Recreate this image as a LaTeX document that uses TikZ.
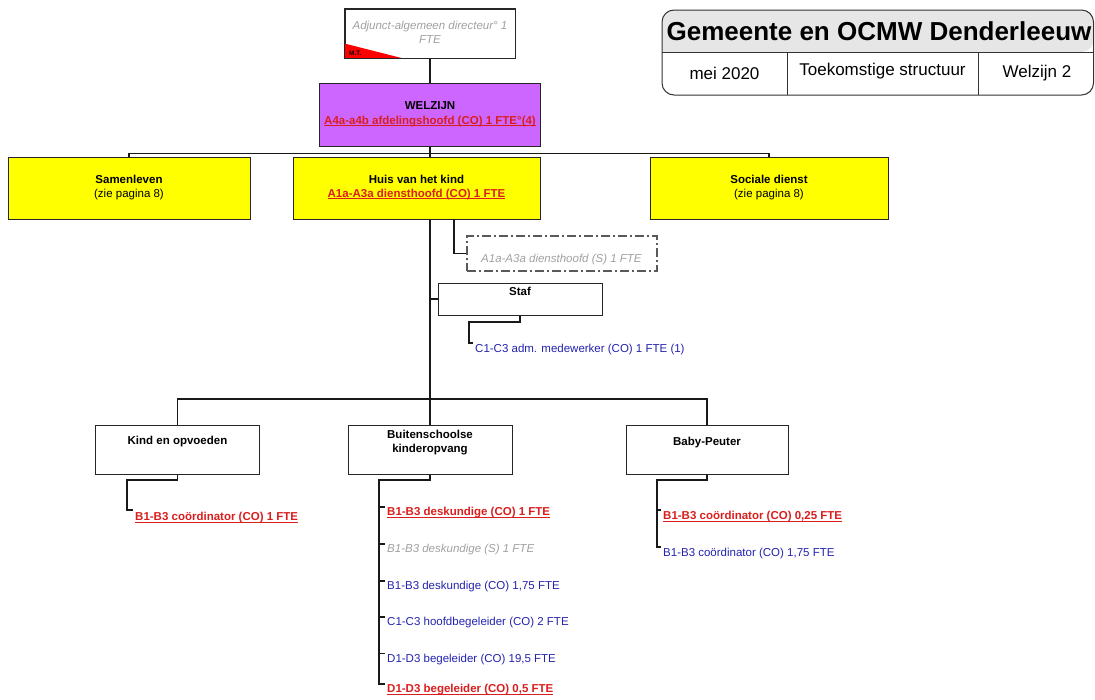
\documentclass[tikz,border=0pt]{standalone}
\usepackage{fontspec}
\setmainfont{Liberation Sans}
\usetikzlibrary{calc}
\definecolor{tred}{RGB}{218,30,30}
\definecolor{tblue}{RGB}{35,35,175}
\definecolor{tgray}{RGB}{160,160,160}
\definecolor{violetfill}{RGB}{204,102,255}
\definecolor{titlegray}{RGB}{230,230,230}
\definecolor{yellowfill}{RGB}{255,255,0}
\newcommand{\myul}[1]{{\setbox0\hbox{#1}\rlap{\rule[-1.7pt]{\wd0}{0.9pt}}\box0}}
\begin{document}
\begin{tikzpicture}[x=1pt,y=-1pt,
  box/.style={draw=black!85, line width=1pt, rectangle, inner sep=0pt},
  conn/.style={draw=black!90, line width=1.1pt},
  fnt/.style={font=\fontsize{11.5}{13.5}\selectfont, align=center, inner sep=0pt},
  leaf/.style={fnt, anchor=west, align=left},
  redl/.style={leaf, text=tred, font=\fontsize{11.5}{13.5}\selectfont\bfseries},
  bluel/.style={leaf, text=tblue},
  grayl/.style={leaf, text=tgray, font=\fontsize{11.5}{13.5}\selectfont\itshape},
  hdr/.style={font=\fontsize{17}{20}\selectfont, inner sep=0pt}]
\useasboundingbox (0,0) rectangle (1095,699);

% ---- title block
\fill[titlegray] (662,52) [rounded corners=12pt] |- (878,10) -| (1093.5,52) [sharp corners] -- cycle;
\draw[line width=1pt, black!80, rounded corners=12pt] (662,10) rectangle (1093.5,95);
\draw[line width=1pt, black!80] (662,52) -- (1093.5,52);
\draw[line width=1pt, black!80] (787,52) -- (787,95);
\draw[line width=1pt, black!80] (978,52) -- (978,95);
\node[font=\fontsize{26}{30}\selectfont\bfseries, inner sep=0pt] (title) at (879,31) {Gemeente en OCMW Denderleeuw};
\node[hdr] (date) at (724.5,73) {mei 2020};
\node[hdr] (kind0) at (882.5,71) {Toekomstige structuur};
\node[hdr] (page) at (1037,73) {Welzijn 2};

% ---- boxes
\node[box, minimum width=170, minimum height=49] (adj) at (430,33.5) {};
\fill[red] (adj.south west) -- ([xshift=59pt]adj.south west) -- ([yshift=15pt]adj.south west) -- cycle;
\draw[draw=black!85, line width=1pt] (adj.south west) rectangle (adj.north east);
\node[font=\fontsize{6.5}{7}\selectfont\bfseries, anchor=west, inner sep=0pt] (mt) at (349,53.5) {M.T.};
\node[fnt, text=tgray, font=\fontsize{11.5}{14.5}\selectfont\itshape] (adjt) at (430,32.5) {Adjunct-algemeen directeur° 1\\FTE};

\node[box, fill=violetfill, minimum width=221, minimum height=63] (welzijn) at (430,114.5) {};
\node[fnt] (welzijnt) at (430,114.5) {\textbf{WELZIJN}\\[1pt]\textcolor{tred}{\bfseries\myul{A4a-a4b afdelingshoofd (CO) 1 FTE°(4)}}};

\node[box, fill=yellowfill, minimum width=242, minimum height=62] (samen) at (129,188) {};
\node[fnt] (sament) at (129,187.5) {\textbf{Samenleven}\\(zie pagina 8)};
\node[box, fill=yellowfill, minimum width=247, minimum height=62] (huis) at (416.5,188) {};
\node[fnt] (huist) at (416.5,187.5) {\textbf{Huis van het kind}\\\textcolor{tred}{\bfseries\myul{A1a-A3a diensthoofd (CO) 1 FTE}}};
\node[box, fill=yellowfill, minimum width=238, minimum height=62] (sociale) at (769,188) {};
\node[fnt] (socialet) at (769,187.5) {\textbf{Sociale dienst}\\(zie pagina 8)};

\node[box, draw=black!65, line width=1.2pt, dash pattern=on 9pt off 3pt on 2pt off 3pt, minimum width=190, minimum height=35] (assist) at (562,253.5) {};
\node[grayl] (assistt) at (481,260) {A1a-A3a diensthoofd (S) 1 FTE};

\node[box, minimum width=164, minimum height=32] (staf) at (520,299) {};
\node[fnt, font=\fontsize{11.5}{13.5}\selectfont\bfseries] (staft) at (520,291) {Staf};
\node[bluel] (adm) at (475,350) {C1-C3 adm. medewerker (CO) 1 FTE (1)};

\node[box, minimum width=164, minimum height=49] (kind) at (177.5,449.5) {};
\node[fnt, font=\fontsize{11.5}{13.5}\selectfont\bfseries] (kindt) at (177.5,442) {Kind en opvoeden};
\node[box, minimum width=164, minimum height=49] (buiten) at (430,449.5) {};
\node[fnt, font=\fontsize{11.5}{14.5}\selectfont\bfseries] (buitent) at (430,442.5) {Buitenschoolse\\kinderopvang};
\node[box, minimum width=162, minimum height=49] (baby) at (707,449.5) {};
\node[fnt, font=\fontsize{11.5}{13.5}\selectfont\bfseries] (babyt) at (707,443) {Baby-Peuter};

% ---- leaves
\node[redl] (k1t) at (135,518) {\myul{B1-B3 coördinator (CO) 1 FTE}};
\node[redl] (b1t) at (387,513) {\myul{B1-B3 deskundige (CO) 1 FTE}};
\node[grayl] (b2t) at (387,550) {B1-B3 deskundige (S) 1 FTE};
\node[bluel] (b3t) at (387,587) {B1-B3 deskundige (CO) 1,75 FTE};
\node[bluel] (b4t) at (387,623) {C1-C3 hoofdbegeleider (CO) 2 FTE};
\node[bluel] (b5t) at (387,659.5) {D1-D3 begeleider (CO) 19,5 FTE};
\node[redl] (b6t) at (387,690) {\myul{D1-D3 begeleider (CO) 0,5 FTE}};
\node[redl] (p1t) at (663,517) {\myul{B1-B3 coördinator (CO) 0,25 FTE}};
\node[bluel] (p2t) at (663,554) {B1-B3 coördinator (CO) 1,75 FTE};

% ---- connectors
\coordinate (bus1) at (430,153.5);
\coordinate (bus2) at (430,399);
\coordinate (aup) at (454,219);
\coordinate (s1) at (469,322);
\coordinate (kk) at (127,480);
\coordinate (bb) at (379,480);
\coordinate (pp) at (657,480);

\draw[conn] (adj.south) -- (welzijn.north);
\draw[conn] (welzijn.south) -- (bus1);
\draw[conn] (samen.north) |- (bus1) -| (sociale.north);
\draw[conn] (bus1) -- (bus1 |- huis.north);
\draw[conn] (bus1 |- huis.south) -- (bus2);
\draw[conn] (aup) |- (assist.west);
\draw[conn] (bus2 |- staf.west) -- (staf.west);
\draw[conn] (staf.south) |- (s1) |- ([shift={(-2pt,7pt)}]adm.west);
\draw[conn] (kind.north) |- (bus2) -| (baby.north);
\draw[conn] (bus2) -- (buiten.north);

\draw[conn] (kind.south) |- (kk) |- ([shift={(-2pt,8pt)}]k1t.west);
\draw[conn] (baby.south) |- (pp) |- ([shift={(-2pt,7pt)}]p2t.west);
\draw[conn] ([yshift=7pt]pp |- p1t.west) -- ([shift={(-2pt,7pt)}]p1t.west);
\draw[conn] (buiten.south) |- (bb) |- ([shift={(-2pt,6pt)}]b6t.west);
\foreach \n in {b1t,b2t,b3t,b4t,b5t}{
  \draw[conn] ([yshift=6pt]bb |- \n.west) -- ([shift={(-2pt,6pt)}]\n.west);
}
\end{tikzpicture}
\end{document}
